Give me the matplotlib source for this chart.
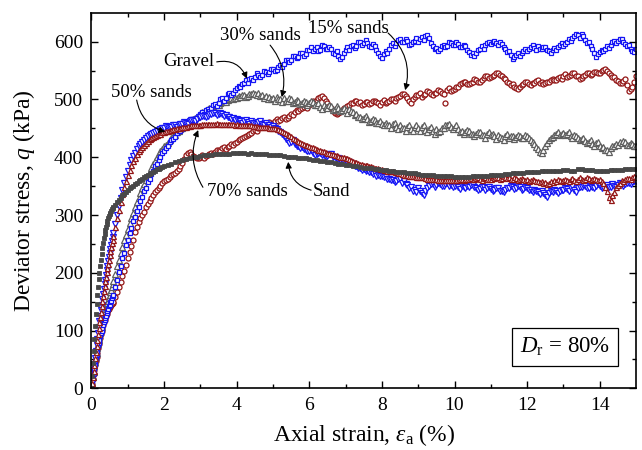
import numpy as np
import matplotlib
matplotlib.use("Agg")
import matplotlib.pyplot as plt

plt.rcParams['font.family'] = ['Liberation Serif', 'DejaVu Serif']
plt.rcParams['mathtext.fontset'] = 'custom'
plt.rcParams['mathtext.rm'] = 'Liberation Serif'
plt.rcParams['mathtext.it'] = 'Liberation Serif:italic'

# ---------------- data (axial strain %, deviator stress kPa) ----------------
# strain sampling: early 0-0.58 step 0.02, mid 0.6-1.95 step 0.05,
# late 2.0-15.0 step 0.05 (step 0.1 for the smooth Sand curve)
gravel_early = [0, 9, 18, 27, 35, 43, 51, 58, 65, 72, 78, 84, 90, 95, 100, 105, 110, 114, 118, 122,
                126, 130, 134, 138, 142, 145, 149, 152, 156, 159]
gravel_mid = [162, 176, 187, 202, 212, 226, 235, 248, 257, 269, 277, 289, 296, 307, 314, 325,
              331, 341, 347, 357, 362, 371, 376, 384, 389, 396, 400, 407]
gravel_late = [410, 416, 419, 426, 430, 431, 435, 442, 445, 446, 449, 456, 458, 455, 460, 466, 467, 463, 468, 472,
               475, 479, 474, 481, 484, 480, 485, 491, 492, 489, 494, 500, 502, 498, 503, 509, 511, 507, 512, 517,
               520, 524, 521, 527, 528, 533, 529, 536, 537, 534, 538, 545, 543, 539, 542, 549, 548, 544, 547, 552,
               553, 549, 551, 557, 559, 556, 561, 568, 569, 565, 569, 575, 576, 571, 574, 581, 580, 576, 579, 585,
               586, 590, 583, 588, 590, 584, 586, 594, 593, 588, 587, 591, 587, 581, 579, 584, 576, 570, 574, 580,
               585, 590, 586, 592, 594, 589, 593, 600, 600, 595, 597, 603, 598, 593, 591, 596, 592, 585, 580, 576,
               571, 578, 584, 580, 588, 594, 598, 592, 598, 603, 605, 600, 599, 604, 601, 595, 596, 600, 602, 606,
               600, 605, 608, 603, 609, 612, 606, 598, 593, 587, 589, 584, 588, 593, 595, 590, 593, 599, 598, 594,
               595, 599, 596, 591, 590, 594, 592, 586, 582, 577, 580, 576, 580, 585, 588, 592, 588, 594, 597, 600,
               596, 600, 602, 597, 595, 599, 596, 591, 588, 582, 584, 577, 570, 574, 577, 581, 576, 580, 584, 588,
               583, 587, 590, 594, 589, 585, 592, 588, 587, 591, 590, 586, 584, 580, 586, 589, 586, 590, 594, 597,
               593, 596, 600, 604, 601, 606, 610, 614, 611, 607, 614, 609, 603, 598, 600, 593, 588, 581, 574, 578,
               582, 586, 583, 588, 592, 589, 594, 599, 602, 598, 601, 605, 604, 599, 596, 592, 594, 588, 584, 582,
               588]

s30_early = [0, 10, 20, 29, 38, 46, 54, 62, 69, 76, 83, 89, 95, 101, 107, 112, 117, 122, 127, 132,
             137, 142, 147, 152, 157, 162, 166, 171, 175, 180]
s30_mid = [186, 198, 211, 222, 234, 245, 256, 266, 276, 286, 295, 304, 313, 322, 330, 338,
           346, 354, 361, 368, 375, 382, 388, 394, 400, 405, 410, 415]
s30_late = [419, 422, 425, 430, 433, 436, 438, 443, 446, 448, 450, 454, 457, 459, 461, 465, 467, 468, 470, 473,
            475, 478, 479, 481, 483, 486, 486, 489, 490, 492, 491, 494, 495, 497, 496, 499, 500, 502, 501, 503,
            503, 506, 505, 508, 507, 504, 506, 510, 509, 512, 510, 507, 511, 506, 508, 503, 506, 501, 504, 500,
            503, 498, 505, 501, 500, 496, 502, 497, 498, 502, 500, 494, 496, 499, 497, 492, 494, 498, 496, 491,
            493, 497, 495, 490, 490, 494, 487, 483, 491, 487, 486, 490, 488, 482, 484, 488, 486, 480, 482, 485,
            481, 477, 483, 480, 479, 473, 474, 470, 470, 466, 468, 472, 466, 461, 463, 467, 465, 459, 460, 463,
            458, 455, 460, 456, 455, 451, 457, 460, 452, 448, 455, 451, 450, 446, 453, 456, 449, 445, 452, 455,
            450, 446, 452, 455, 447, 443, 449, 452, 445, 441, 448, 444, 446, 451, 450, 455, 455, 458, 453, 449,
            452, 456, 448, 444, 445, 441, 443, 447, 446, 440, 441, 437, 440, 444, 443, 439, 438, 434, 440, 443,
            438, 441, 436, 432, 439, 435, 434, 430, 437, 441, 433, 437, 436, 432, 435, 439, 437, 433, 434, 438,
            436, 433, 430, 426, 423, 418, 414, 409, 408, 413, 420, 425, 430, 433, 435, 438, 440, 443, 438, 441,
            442, 438, 440, 444, 437, 434, 439, 436, 433, 429, 431, 434, 428, 425, 427, 430, 423, 420, 424, 427,
            420, 416, 417, 413, 412, 409, 416, 420, 419, 423, 422, 426, 424, 428, 426, 421, 422, 425, 423, 419,
            420]

s15_early = [0, 8, 16, 24, 32, 40, 47, 55, 62, 69, 76, 82, 88, 94, 100, 105, 110, 114, 118, 122,
             126, 129, 132, 135, 138, 140, 142, 144, 146, 148]
s15_mid = [150, 158, 166, 175, 184, 194, 203, 214, 225, 236, 247, 257, 270, 279, 288, 294,
           300, 306, 313, 319, 325, 330, 335, 339, 343, 347, 351, 355]
s15_late = [359, 361, 363, 366, 369, 371, 373, 377, 380, 385, 390, 397, 404, 407, 409, 405, 402, 400, 398, 399,
            401, 403, 399, 402, 404, 406, 407, 405, 409, 412, 413, 410, 416, 418, 414, 417, 420, 423, 422, 425,
            427, 429, 431, 433, 435, 437, 438, 441, 442, 445, 447, 446, 450, 453, 454, 455, 457, 460, 461, 458,
            459, 463, 466, 462, 464, 468, 470, 467, 468, 472, 475, 473, 478, 481, 480, 483, 485, 487, 488, 486,
            490, 494, 497, 495, 499, 502, 504, 506, 502, 498, 494, 488, 485, 480, 477, 474, 476, 479, 482, 485,
            487, 489, 490, 493, 494, 498, 497, 493, 495, 490, 492, 495, 496, 492, 493, 497, 498, 495, 494, 491,
            496, 499, 493, 496, 497, 501, 500, 498, 503, 505, 506, 509, 510, 506, 502, 497, 493, 500, 505, 508,
            508, 511, 505, 508, 510, 514, 513, 509, 508, 511, 512, 516, 514, 511, 510, 494, 516, 519, 514, 517,
            518, 521, 522, 526, 528, 531, 530, 527, 526, 529, 531, 535, 534, 531, 530, 534, 537, 540, 540, 537,
            538, 541, 543, 546, 545, 542, 540, 537, 536, 531, 528, 525, 526, 522, 520, 518, 522, 525, 527, 530,
            530, 527, 525, 528, 529, 532, 533, 529, 530, 526, 528, 531, 531, 534, 536, 533, 534, 537, 539, 536,
            541, 544, 538, 541, 543, 546, 545, 541, 540, 536, 537, 541, 542, 545, 546, 543, 544, 547, 548, 545,
            546, 549, 551, 553, 549, 545, 543, 539, 538, 534, 532, 529, 528, 532, 535, 525, 514, 518, 522, 530,
            540]

s50_early = [0, 10, 20, 31, 42, 53, 64, 75, 86, 96, 106, 116, 126, 136, 145, 154, 163, 172, 180, 188,
             196, 204, 212, 220, 227, 234, 241, 248, 255, 262]
s50_mid = [268, 285, 300, 315, 330, 343, 355, 366, 376, 386, 395, 402, 408, 414, 419, 423,
           427, 430, 433, 436, 438, 440, 442, 444, 446, 447, 448, 450]
s50_late = [451, 454, 453, 450, 452, 455, 456, 453, 455, 458, 458, 461, 460, 458, 462, 465, 465, 463, 467, 469,
            469, 472, 471, 469, 472, 475, 474, 477, 476, 473, 475, 477, 474, 471, 473, 470, 470, 467, 468, 465,
            467, 464, 463, 460, 462, 464, 461, 458, 463, 460, 460, 457, 461, 463, 458, 455, 459, 456, 455, 452,
            454, 451, 448, 446, 444, 440, 437, 432, 428, 424, 426, 429, 423, 420, 420, 416, 418, 414, 413, 410,
            410, 412, 407, 404, 405, 408, 408, 403, 404, 400, 402, 405, 406, 401, 400, 397, 398, 395, 396, 393,
            394, 391, 391, 388, 388, 384, 385, 381, 382, 378, 380, 377, 378, 374, 375, 371, 372, 368, 370, 367,
            368, 365, 366, 362, 363, 360, 361, 357, 359, 362, 362, 356, 358, 353, 352, 347, 348, 342, 344, 340,
            346, 341, 338, 335, 342, 347, 350, 353, 353, 349, 352, 355, 354, 350, 351, 354, 355, 351, 352, 349,
            350, 353, 348, 345, 351, 348, 347, 350, 349, 352, 352, 348, 347, 343, 345, 349, 348, 344, 346, 349,
            345, 341, 343, 347, 346, 342, 342, 339, 344, 347, 347, 350, 349, 345, 346, 350, 348, 344, 345, 348,
            346, 343, 343, 340, 344, 341, 340, 337, 342, 338, 334, 331, 338, 341, 340, 343, 342, 338, 341, 344,
            344, 347, 345, 342, 347, 350, 343, 340, 346, 349, 349, 352, 350, 346, 347, 350, 349, 346, 351, 353,
            350, 346, 348, 351, 352, 348, 349, 353, 351, 348, 352, 355, 354, 351, 353, 356, 356, 353, 357, 359,
            358]

s70_early = [0, 10, 20, 30, 41, 52, 63, 74, 84, 94, 104, 114, 124, 133, 142, 151, 160, 169, 177, 185,
             193, 201, 209, 216, 223, 230, 237, 244, 251, 257]
s70_mid = [263, 279, 294, 309, 323, 336, 348, 359, 369, 378, 386, 393, 399, 405, 410, 414,
           418, 422, 425, 428, 431, 433, 435, 437, 439, 440, 441, 443]
s70_late = [444, 445, 446, 447, 447, 448, 449, 450, 450, 451, 452, 452, 453, 454, 454, 455, 455, 456, 456, 456,
            456, 457, 457, 457, 457, 458, 458, 458, 458, 459, 458, 458, 458, 458, 457, 458, 457, 457, 457, 456,
            457, 456, 456, 456, 456, 455, 455, 455, 455, 454, 454, 454, 453, 453, 453, 452, 452, 452, 451, 450,
            450, 450, 449, 448, 447, 446, 444, 442, 440, 438, 436, 434, 432, 430, 428, 426, 425, 423, 422, 421,
            420, 418, 417, 416, 415, 413, 412, 411, 410, 409, 408, 407, 406, 405, 404, 403, 402, 401, 401, 400,
            399, 398, 397, 395, 394, 392, 391, 390, 389, 388, 387, 386, 386, 385, 384, 383, 382, 381, 381, 380,
            379, 378, 378, 377, 377, 376, 376, 375, 374, 373, 372, 371, 370, 370, 369, 368, 368, 367, 367, 366,
            366, 366, 365, 365, 364, 363, 363, 362, 362, 362, 362, 361, 361, 361, 361, 360, 360, 360, 360, 360,
            360, 361, 361, 362, 362, 361, 362, 363, 363, 364, 363, 362, 364, 365, 362, 361, 364, 365, 363, 362,
            363, 365, 364, 366, 366, 363, 364, 367, 366, 364, 365, 362, 363, 365, 364, 361, 362, 364, 363, 360,
            362, 359, 360, 362, 361, 358, 359, 357, 358, 355, 357, 354, 356, 358, 357, 360, 359, 362, 360, 358,
            360, 363, 361, 358, 362, 364, 361, 359, 363, 365, 362, 360, 363, 366, 364, 361, 362, 364, 363, 360,
            362, 358, 355, 348, 342, 332, 326, 334, 340, 348, 352, 356, 360, 358, 362, 364, 364, 362, 365, 367,
            366]

sand_early = [0, 22, 44, 65, 86, 108, 128, 146, 162, 176, 189, 200, 211, 222, 233, 243, 252, 260,
              267, 274, 280, 285, 290, 294, 298, 301, 304, 307, 310, 312]
sand_mid = [314, 318, 322, 326, 330, 334, 337, 340, 343, 346, 349, 351, 354, 356, 359, 361,
            363, 365, 367, 369, 371, 373, 375, 377, 379, 380, 382, 383]
sand_late = [385, 387, 389, 391, 393, 395, 397, 398, 400, 401,
             402, 403, 404, 404, 405, 405, 406, 406, 406, 407,
             407, 407, 407, 406, 407, 406, 406, 405, 405, 404,
             404, 403, 403, 402, 401, 401, 400, 399, 398, 398,
             397, 396, 395, 394, 393, 392, 391, 390, 389, 388,
             387, 386, 385, 384, 383, 382, 381, 381, 380, 379,
             378, 378, 377, 376, 375, 374, 374, 373, 372, 372,
             371, 370, 370, 369, 369, 368, 368, 367, 367, 367,
             366, 366, 366, 366, 366, 367, 367, 367, 368, 368,
             369, 369, 370, 370, 371, 371, 372, 372, 373, 373,
             374, 374, 375, 375, 376, 376, 376, 377, 377, 377,
             378, 378, 377, 376, 379, 379, 378, 378, 378, 377,
             377, 377, 377, 378, 378, 378, 378, 379, 379, 379,
             380]

labels = ["15% sands", "30% sands", "Gravel", "50% sands", "70% sands", "Sand"]
x_ticks = [0, 2, 4, 6, 8, 10, 12, 14]
y_ticks = [0, 100, 200, 300, 400, 500, 600]


def strain_grid(early, mid, late, late_step=0.05):
    e = 0.02 * np.arange(len(early))
    m = 0.6 + 0.05 * np.arange(len(mid))
    l = 2.0 + late_step * np.arange(len(late))
    return np.concatenate([e, m, l]), np.array(early + mid + late, dtype=float)


fig = plt.figure(figsize=(6.42, 4.5), dpi=100)
ax = fig.add_axes([0.1425, 0.137, 0.8482, 0.8346])

BLUE = '#1414f5'
RED = '#931616'
GRAY = '#5e5e5e'
DGRAY = '#484848'

x, y = strain_grid(s15_early, s15_mid, s15_late)
ax.plot(x, y, ls='none', marker='o', ms=3.6, mfc='white', mec=RED, mew=0.9)
x, y = strain_grid(s30_early, s30_mid, s30_late)
ax.plot(x, y, ls='none', marker='^', ms=3.8, mfc='white', mec=GRAY, mew=0.9)
x, y = strain_grid(gravel_early, gravel_mid, gravel_late)
ax.plot(x, y, ls='none', marker='s', ms=3.5, mfc='white', mec=BLUE, mew=0.9)
x, y = strain_grid(s50_early, s50_mid, s50_late)
ax.plot(x, y, ls='none', marker='v', ms=3.8, mfc='white', mec=BLUE, mew=0.9)
x, y = strain_grid(s70_early, s70_mid, s70_late)
ax.plot(x, y, ls='none', marker='^', ms=3.6, mfc='white', mec=RED, mew=0.9)
x, y = strain_grid(sand_early, sand_mid, sand_late, late_step=0.1)
ax.plot(x, y, ls='none', marker='s', ms=3.3, mfc=DGRAY, mec=DGRAY, mew=0.6)

ax.set_xlim(0, 15)
ax.set_ylim(0, 650)
ax.set_xticks(x_ticks)
ax.set_yticks(y_ticks)
ax.set_xticks(np.arange(1, 15, 2), minor=True)
ax.set_yticks(np.arange(50, 650, 100), minor=True)
ax.tick_params(which='both', direction='in', top=True, right=True, labelsize=14, pad=6)
ax.tick_params(which='major', length=5, width=1)
ax.tick_params(which='minor', length=3, width=1)
for sp in ax.spines.values():
    sp.set_linewidth(1.2)

ax.set_xlabel(r'Axial strain, $\varepsilon_\mathrm{a}$ (%)', fontsize=17, labelpad=6)
ax.set_ylabel(r'Deviator stress, $q$ (kPa)', fontsize=17, labelpad=12)

fs = 13.5
arrow_kw = dict(arrowstyle='-|>', color='black', lw=0.8, mutation_scale=9,
                shrinkA=0, shrinkB=0)
# text positions and arrows (strain, q)
ax.text(7.07, 623, labels[0], fontsize=fs, ha='center', va='center')
ax.annotate('', xy=(8.64, 516), xytext=(8.17, 615),
            arrowprops=dict(connectionstyle='arc3,rad=-0.3', **arrow_kw))
ax.text(4.65, 611, labels[1], fontsize=fs, ha='center', va='center')
ax.annotate('', xy=(5.24, 504), xytext=(4.92, 594),
            arrowprops=dict(connectionstyle='arc3,rad=-0.25', **arrow_kw))
ax.text(2.69, 565, labels[2], fontsize=fs, ha='center', va='center')
ax.annotate('', xy=(4.28, 536), xytext=(3.45, 565),
            arrowprops=dict(connectionstyle='arc3,rad=-0.4', **arrow_kw))
ax.text(1.64, 512, labels[3], fontsize=fs, ha='center', va='center')
ax.annotate('', xy=(2.03, 444), xytext=(1.245, 499),
            arrowprops=dict(connectionstyle='arc3,rad=0.3', **arrow_kw))
ax.text(4.29, 340, labels[4], fontsize=fs, ha='center', va='center')
ax.annotate('', xy=(2.94, 447), xytext=(3.07, 348),
            arrowprops=dict(connectionstyle='arc3,rad=-0.25', **arrow_kw))
ax.text(6.6, 340, labels[5], fontsize=fs, ha='center', va='center')
ax.annotate('', xy=(5.42, 392), xytext=(6.05, 343),
            arrowprops=dict(connectionstyle='arc3,rad=-0.35', **arrow_kw))

ax.text(0.869, 0.11, r'$D_\mathrm{r}$ = 80%', transform=ax.transAxes, fontsize=16.5,
        ha='center', va='center',
        bbox=dict(boxstyle='square,pad=0.35', fc='white', ec='black', lw=0.9))

fig.savefig('out.png', dpi=100)
